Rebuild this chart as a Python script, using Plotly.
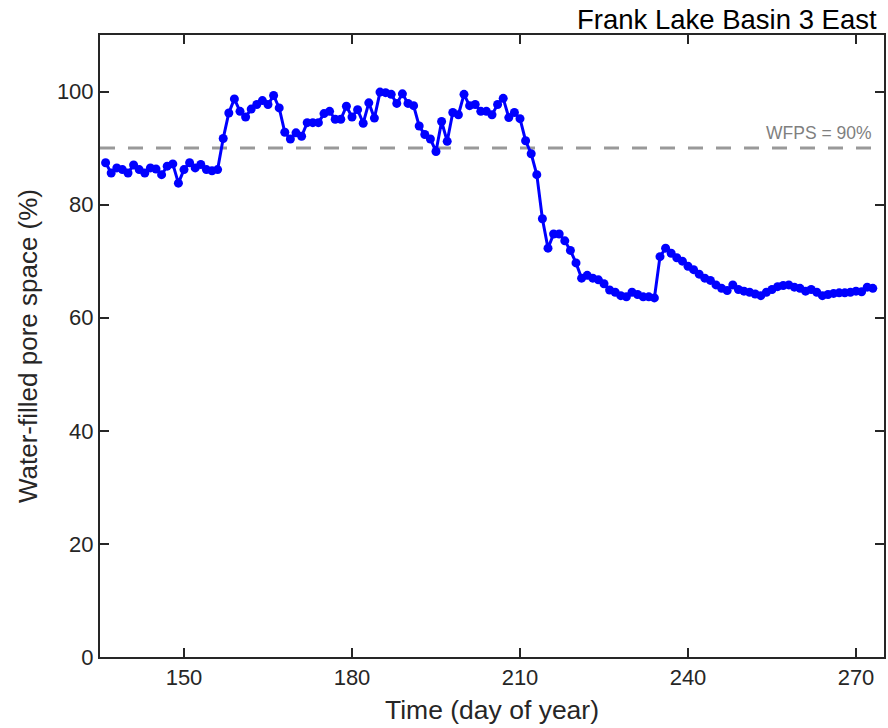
import plotly.graph_objects as go

# Daily water-filled pore space (%) at Frank Lake Basin 3 East
days = list(range(136, 274))
wfps = [
    87.4, 85.6, 86.5, 86.2, 85.6, 87.0, 86.2, 85.6, 86.5, 86.3,   # 136-145
    85.3, 86.8, 87.2, 83.8, 86.2, 87.4, 86.5, 87.1, 86.2, 86.0,   # 146-155
    86.2, 91.7, 96.2, 98.7, 96.5, 95.5, 96.9, 97.7, 98.4, 97.7,   # 156-165
    99.3, 97.1, 92.8, 91.6, 92.7, 92.1, 94.5, 94.5, 94.5, 96.1,   # 166-175
    96.5, 95.1, 95.1, 97.4, 95.5, 96.8, 94.4, 98.0, 95.3, 99.9,   # 176-185
    99.8, 99.5, 97.9, 99.6, 97.9, 97.5, 93.9, 92.4, 91.6, 89.4,   # 186-195
    94.7, 91.2, 96.3, 95.9, 99.5, 97.5, 97.7, 96.5, 96.5, 95.9,   # 196-205
    97.7, 98.8, 95.4, 96.3, 95.2, 91.3, 89.0, 85.3, 77.5, 72.3,   # 206-215
    74.8, 74.8, 73.6, 71.9, 69.7, 67.0, 67.5, 67.0, 66.7, 66.0,   # 216-225
    64.9, 64.5, 63.9, 63.7, 64.5, 64.1, 63.7, 63.7, 63.5, 70.8,   # 226-235
    72.3, 71.4, 70.6, 70.0, 69.1, 68.5, 67.7, 67.0, 66.6, 65.8,   # 236-245
    65.2, 64.8, 65.8, 65.0, 64.7, 64.5, 64.2, 63.9, 64.5, 65.0,   # 246-255
    65.5, 65.7, 65.8, 65.4, 65.2, 64.7, 65.0, 64.5, 63.9, 64.1,   # 256-265
    64.3, 64.4, 64.4, 64.5, 64.7, 64.6, 65.4, 65.2,               # 266-273
]

threshold = 90
x_range = [135, 275]
y_range = [0, 110]
x_ticks = [150, 180, 210, 240, 270]
y_ticks = [0, 20, 40, 60, 80, 100]

axis_color = "#262626"
font_family = "Liberation Sans, Arial, Helvetica, sans-serif"

fig = go.Figure()

# WFPS threshold reference line
fig.add_trace(go.Scatter(
    x=x_range, y=[threshold, threshold],
    mode="lines",
    line=dict(color="#999999", width=3, dash="15px,13px"),
    hoverinfo="skip", showlegend=False,
))

fig.add_trace(go.Scatter(
    x=days, y=wfps,
    mode="lines+markers",
    line=dict(color="#0000ff", width=3),
    marker=dict(color="#0000ff", size=9),
    showlegend=False,
))

fig.add_annotation(
    x=x_range[1] - 1.8, y=threshold, xref="x", yref="y",
    text="WFPS = 90%", showarrow=False,
    xanchor="right", yanchor="bottom", yshift=3,
    font=dict(family=font_family, size=17.5, color="#7f7f7f"),
)

fig.add_annotation(
    x=1, y=1, xref="paper", yref="paper",
    text="Frank Lake Basin 3 East", showarrow=False,
    xanchor="right", yanchor="bottom", xshift=-5, yshift=-2,
    font=dict(family=font_family, size=27.5, color="#000000"),
)

axis_common = dict(
    showgrid=False, zeroline=False,
    showline=True, linecolor=axis_color, linewidth=2, mirror="ticks",
    ticks="inside", ticklen=9, tickwidth=2, tickcolor=axis_color,
    tickfont=dict(family=font_family, size=22, color=axis_color),
)

fig.update_xaxes(
    range=x_range, tickvals=x_ticks,
    title=dict(text="Time (day of year)", standoff=11,
               font=dict(family=font_family, size=26.5, color=axis_color)),
    **axis_common,
)
fig.update_yaxes(
    range=y_range, tickvals=y_ticks,
    title=dict(text="Water-filled pore space (%)", standoff=12,
               font=dict(family=font_family, size=26, color=axis_color)),
    **axis_common,
)

fig.update_layout(
    width=888, height=728,
    margin=dict(l=100, r=2, t=35, b=71),
    paper_bgcolor="white", plot_bgcolor="white",
    font=dict(family=font_family),
)

fig.write_html("out.html")
